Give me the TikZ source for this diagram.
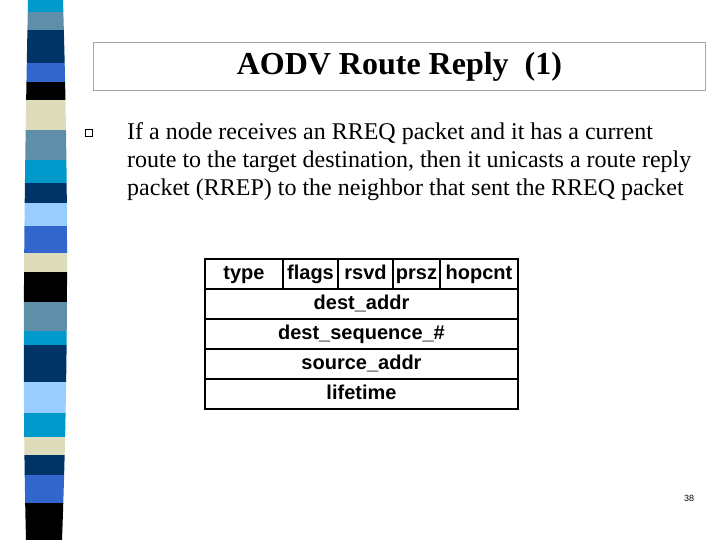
\documentclass[tikz,border=0pt]{standalone}
\usepackage{fontspec}
\setmainfont{Liberation Serif}
\newfontfamily\arialf{Liberation Sans}
\begin{document}
\begin{tikzpicture}[x=1pt,y=-1pt,
  cell/.style={draw,line width=2pt,minimum height=30pt,inner sep=0pt,text height=14pt,text depth=4pt,font=\arialf\bfseries\fontsize{20}{22}\selectfont},
  body/.style={anchor=west,inner sep=0pt,font=\fontsize{24}{28}\selectfont}]
\useasboundingbox (0,0) rectangle (720,540);
\begin{scope}
\clip (28,0) .. controls (24,200) and (22,380) .. (26,540) -- (62,540) .. controls (68,380) and (69,200) .. (63,0) -- cycle;
\foreach \a/\b/\c in {0/12/0099CC,12/30/5F8FA8,30/63/003366,63/82/3366CC,82/100/000000,100/130/DDDDBB,130/160/5F8FA8,160/183/0099CC,183/203/003366,203/226/99CCFF,226/253/3366CC,253/272/DDDDBB,272/302/000000,302/331/5F8FA8,331/345/0099CC,345/382/003366,382/413/99CCFF,413/437/0099CC,437/455/DDDDBB,455/475/003366,475/503/3366CC,503/540/000000}{
  \definecolor{bc}{HTML}{\c}
  \fill[bc] (0,\a) rectangle (80,\b);
}
\end{scope}
\node[draw=gray!70,line width=0.8pt,minimum width=612pt,minimum height=48pt,anchor=north west,font=\bfseries\fontsize{32}{36}\selectfont] (title) at (93,42) {AODV Route Reply\ \ (1)};
\node[draw,line width=0.7pt,minimum size=7pt,inner sep=0pt] (bul) at (89,133) {};
\node[body] (l1) at (127,134) {If a node receives an RREQ packet and it has a current};
\node[body] (l2) at (127,162) {route to the target destination, then it unicasts a route reply};
\node[body] (l3) at (127,190) {packet (RREP) to the neighbor that sent the RREQ packet};
\node[cell,minimum width=78pt,anchor=north west] (type) at (204,258) {type};
\node[cell,minimum width=55pt,anchor=north west] (flags) at (282,258) {flags};
\node[cell,minimum width=55pt,anchor=north west] (rsvd) at (337,258) {rsvd};
\node[cell,minimum width=47pt,anchor=north west] (prsz) at (392,258) {prsz};
\node[cell,minimum width=78pt,anchor=north west] (hop) at (439,258) {hopcnt};
\node[cell,minimum width=313pt,anchor=north west] (da) at (204,288) {dest\_addr};
\node[cell,minimum width=313pt,anchor=north west] (ds) at (204,318) {dest\_sequence\_\#};
\node[cell,minimum width=313pt,anchor=north west] (sa) at (204,348) {source\_addr};
\node[cell,minimum width=313pt,anchor=north west] (lt) at (204,378) {lifetime};
\node[font=\arialf\fontsize{9}{10}\selectfont] (pg) at (689,498) {38};
\end{tikzpicture}
\end{document}
